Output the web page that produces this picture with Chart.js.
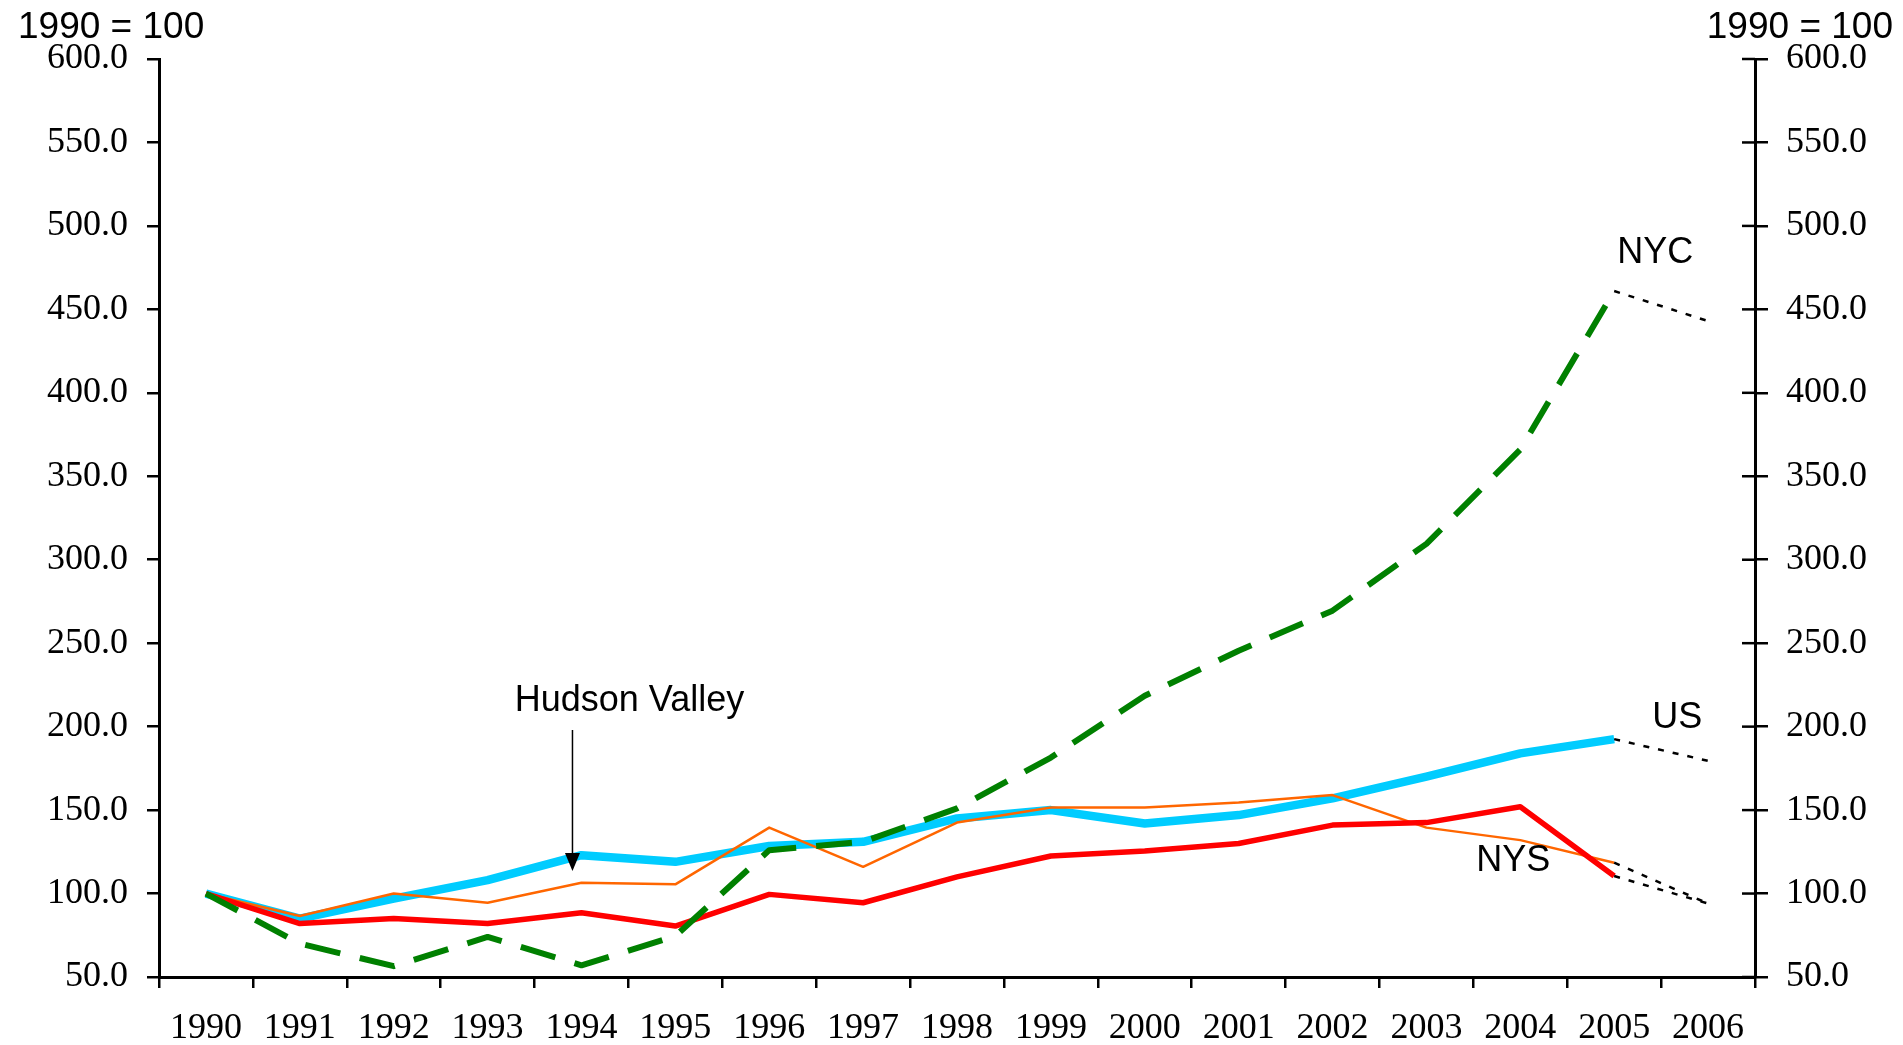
<!DOCTYPE html>
<html>
<head>
<meta charset="utf-8">
<script src="https://cdn.jsdelivr.net/npm/chart.js@4.4.1/dist/chart.umd.min.js"></script>
<style>
  html, body { margin: 0; padding: 0; background: #fff; }
  #wrap { width: 1903px; height: 1045px; }
</style>
</head>
<body>
<div id="wrap"><canvas id="chart" width="1903" height="1045"></canvas></div>
<script>
// Index 1990 = 100
const years = ['1990', '1991', '1992', '1993', '1994', '1995', '1996', '1997', '1998',
  '1999', '2000', '2001', '2002', '2003', '2004', '2005', '2006'];

const us = [100, 85, 97, 108, 123, 119, 128.5, 131, 145, 150, 142, 147, 157, 170, 184, 192.5, null];
const nyc = [100, 70, 56.5, 74, 57, 74.5, 126, 131, 151, 181.5, 218.5, 245.5, 269.5, 309.5, 366, 461, null];
const nys = [100, 82, 85, 82, 88.5, 80.5, 99.5, 94.5, 110, 122.5, 125.5, 130, 141, 142.5, 152, 110.5, null];
const hudsonValley = [100, 86.5, 100, 94.5, 106.5, 105.5, 139.5, 116, 142.5, 151.5, 151.5, 154.5, 159, 139.5, 132, 118.5, null];

// dotted 2005 -> 2006 estimates
const usProjection = [null, null, null, null, null, null, null, null, null, null, null, null, null, null, null, 192.5, 179.5];
const nycProjection = [null, null, null, null, null, null, null, null, null, null, null, null, null, null, null, 461, 443];
const nysProjection = [null, null, null, null, null, null, null, null, null, null, null, null, null, null, null, 110.5, 94];
const hvProjection = [null, null, null, null, null, null, null, null, null, null, null, null, null, null, null, 118.5, 94];

const yMin = 50;
const yMax = 600;
const yStep = 50;
const axisTitle = '1990 = 100';

const tickFont = { family: '"Liberation Serif", "Times New Roman", serif', size: 36 };
const labelFont = '37px "Liberation Sans", Arial, sans-serif';

function projection(data) {
  return {
    data,
    borderColor: '#000000',
    borderWidth: 2.5,
    borderDash: [6, 9],
    pointRadius: 0,
    fill: false,
    order: 0,
    spanGaps: false
  };
}

// texts, arrow and the inner half of the right axis ticks
const annotations = {
  id: 'annotations',
  afterDatasetsDraw(chart) {
    const { ctx, chartArea, scales } = chart;
    const x = scales.x, y = scales.y, yRight = scales.yRight;
    ctx.save();

    ctx.strokeStyle = '#000';
    ctx.lineWidth = 2.5;
    yRight.ticks.forEach(t => {
      const py = yRight.getPixelForValue(t.value);
      ctx.beginPath();
      ctx.moveTo(chartArea.right - 13, py);
      ctx.lineTo(chartArea.right, py);
      ctx.stroke();
    });

    ctx.fillStyle = '#000';
    ctx.font = labelFont;
    ctx.textBaseline = 'alphabetic';
    ctx.textAlign = 'left';
    ctx.fillText(axisTitle, 18, 38);
    ctx.textAlign = 'right';
    ctx.fillText(axisTitle, 1893, 38);

    ctx.font = '36px "Liberation Sans", Arial, sans-serif';
    ctx.textAlign = 'center';
    ctx.fillText('NYC', x.getPixelForValue(15) + 41, y.getPixelForValue(478));
    ctx.fillText('US', x.getPixelForValue(15) + 63, y.getPixelForValue(199));
    ctx.fillText('NYS', x.getPixelForValue(14) - 7, y.getPixelForValue(113.5));
    ctx.fillText('Hudson Valley', x.getPixelForValue(4) + 48, y.getPixelForValue(209.5));

    // arrow to Hudson Valley line
    const ax = x.getPixelForValue(4) - 9;
    const top = y.getPixelForValue(198);
    const tip = y.getPixelForValue(113.5);
    ctx.lineWidth = 1.5;
    ctx.beginPath();
    ctx.moveTo(ax, top);
    ctx.lineTo(ax, tip - 15);
    ctx.stroke();
    ctx.beginPath();
    ctx.moveTo(ax - 7.5, tip - 18);
    ctx.lineTo(ax + 7.5, tip - 18);
    ctx.lineTo(ax, tip);
    ctx.closePath();
    ctx.fill();

    ctx.restore();
  }
};

const ctx = document.getElementById('chart').getContext('2d');
new Chart(ctx, {
  type: 'line',
  data: {
    labels: years,
    datasets: [
      { label: 'US', data: us, borderColor: '#00CCFF', borderWidth: 8.5, order: 4 },
      { label: 'Hudson Valley', data: hudsonValley, borderColor: '#FF6600', borderWidth: 2.5, order: 3 },
      { label: 'NYS', data: nys, borderColor: '#FF0000', borderWidth: 5.5, order: 2 },
      { label: 'NYC', data: nyc, borderColor: '#008000', borderWidth: 6, borderDash: [36, 20], order: 1 },
      projection(usProjection),
      projection(nycProjection),
      projection(nysProjection),
      projection(hvProjection)
    ]
  },
  options: {
    responsive: false,
    animation: false,
    devicePixelRatio: 1,
    layout: { padding: { top: 59, left: 0, right: 0, bottom: 0 } },
    elements: {
      point: { radius: 0 },
      line: { tension: 0, borderJoinStyle: 'round', fill: false }
    },
    plugins: {
      legend: { display: false },
      tooltip: { enabled: false },
      title: { display: false }
    },
    scales: {
      x: {
        type: 'category',
        offset: true,
        grid: { offset: true, drawOnChartArea: false, drawTicks: true, tickLength: 11, color: '#000', lineWidth: 2.5 },
        border: { display: true, color: '#000', width: 3 },
        ticks: { color: '#000', font: tickFont, padding: 19, maxRotation: 0, autoSkip: false },
        afterFit(scale) { scale.height = 68; }
      },
      y: {
        position: 'left',
        min: yMin,
        max: yMax,
        grid: { drawOnChartArea: false, drawTicks: true, tickLength: 12, color: '#000', lineWidth: 2.5 },
        border: { display: true, color: '#000', width: 3 },
        ticks: { stepSize: yStep, color: '#000', font: tickFont, padding: 19, callback: v => v.toFixed(1) },
        afterFit(scale) { scale.width = 159; }
      },
      yRight: {
        position: 'right',
        min: yMin,
        max: yMax,
        grid: { drawOnChartArea: false, drawTicks: true, tickLength: 13, color: '#000', lineWidth: 2.5 },
        border: { display: true, color: '#000', width: 3 },
        ticks: { stepSize: yStep, color: '#000', font: tickFont, padding: 18, callback: v => v.toFixed(1) },
        afterFit(scale) { scale.width = 148; }
      }
    }
  },
  plugins: [annotations]
});
</script>
</body>
</html>
